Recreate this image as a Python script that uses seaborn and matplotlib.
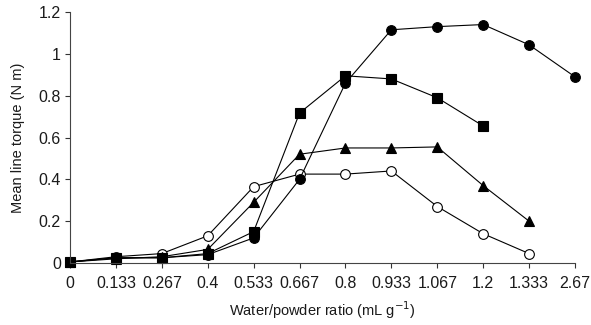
import matplotlib
matplotlib.use("Agg")
import matplotlib.pyplot as plt
import seaborn as sns
import pandas as pd

categories = ["0", "0.133", "0.267", "0.4", "0.533", "0.667", "0.8", "0.933", "1.067", "1.2", "1.333", "2.67"]
filled_circle = [0.005, 0.025, 0.025, 0.04, 0.12, 0.40, 0.86, 1.115, 1.13, 1.14, 1.043, 0.89]
filled_square = [0.005, 0.025, 0.025, 0.045, 0.15, 0.717, 0.895, 0.88, 0.79, 0.655]
filled_triangle = [0.005, 0.02, 0.03, 0.065, 0.29, 0.52, 0.55, 0.55, 0.555, 0.37, 0.20]
open_circle = [0.005, 0.03, 0.045, 0.13, 0.365, 0.425, 0.425, 0.44, 0.27, 0.14, 0.045]

sns.set_style("ticks")
plt.rcParams["font.family"] = ["Liberation Sans", "DejaVu Sans"]

fig = plt.figure(figsize=(5.91, 3.25), dpi=100)
ax = fig.add_axes([70 / 591, 1 - 263 / 325, 505 / 591, 251 / 325])

# establish category order on the axis first
ax.plot(categories, [0] * len(categories), alpha=0)

series = [
    (open_circle, "o", "white", 7),
    (filled_triangle, "^", "black", 7.5),
    (filled_circle, "o", "black", 7),
    (filled_square, "s", "black", 6.5),
]
for vals, mk, fc, ms in series:
    df = pd.DataFrame({"x": categories[:len(vals)], "y": vals})
    sns.lineplot(data=df, x="x", y="y", ax=ax, color="black", linewidth=0.8,
                 marker=mk, markersize=ms, markerfacecolor=fc,
                 markeredgecolor="black", markeredgewidth=0.8, sort=False,
                 clip_on=False)

ax.set_xlim(0, len(categories) - 1)
ax.set_ylim(0, 1.2)
ax.set_yticks([0, 0.2, 0.4, 0.6, 0.8, 1.0, 1.2])
ax.set_yticklabels(["0", "0.2", "0.4", "0.6", "0.8", "1", "1.2"])
ax.set_xticks(range(len(categories)))
ax.set_xticklabels(categories)
ax.tick_params(axis="both", labelsize=11.5, length=3.5, width=0.8, colors="#333333",
               labelcolor="#1a1a1a")
ax.tick_params(axis="y", pad=3)
ax.tick_params(axis="x", pad=6)
for s in ["top", "right"]:
    ax.spines[s].set_visible(False)
for s in ["left", "bottom"]:
    ax.spines[s].set_color("#444444")
    ax.spines[s].set_linewidth(0.8)
ax.set_xlabel("Water/powder ratio (mL g$^{-1}$)", fontsize=10.5, labelpad=6, color="#1a1a1a")
ax.set_ylabel("Mean line torque (N m)", fontsize=10.5, labelpad=10, color="#1a1a1a")

fig.savefig("out.png", dpi=100)
